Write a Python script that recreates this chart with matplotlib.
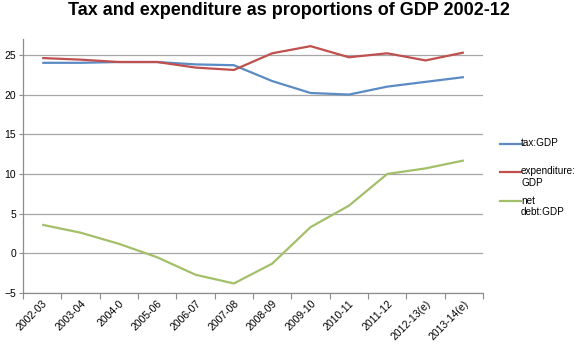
import matplotlib
matplotlib.use("Agg")
import matplotlib.pyplot as plt
from matplotlib.lines import Line2D
import numpy as np

years = ["2002-03", "2003-04", "2004-0", "2005-06", "2006-07", "2007-08",
         "2008-09", "2009-10", "2010-11", "2011-12", "2012-13(e)", "2013-14(e)"]
tax = [24.0, 24.0, 24.1, 24.1, 23.8, 23.7, 21.7, 20.2, 20.0, 21.0, 21.6, 22.2]
expenditure = [24.6, 24.4, 24.1, 24.1, 23.4, 23.1, 25.2, 26.1, 24.7, 25.2, 24.3, 25.3]
net_debt = [3.6, 2.6, 1.2, -0.5, -2.7, -3.8, -1.3, 3.3, 6.0, 10.0, 10.7, 11.7]

series = [
    ("tax:GDP", tax, "#5b8bc4"),
    ("expenditure:\nGDP", expenditure, "#c0504d"),
    ("net\ndebt:GDP", net_debt, "#a3bf6a"),
]

plt.rcParams["font.family"] = ["Liberation Sans", "DejaVu Sans"]

W, H = 578, 347
fig = plt.figure(figsize=(W / 100, H / 100), dpi=100)
ax = fig.add_axes([0.0398, 0.1556, 0.796, 0.732])

x = np.arange(len(years)) + 0.5
for label, vals, col in series:
    ax.plot(x, vals, color=col, lw=1.6, solid_capstyle="butt")

ax.set_xlim(0, len(years))
ax.set_ylim(-5, 27)
ax.set_yticks([-5, 0, 5, 10, 15, 20, 25])
ax.yaxis.grid(True, color="#a6a6a6", lw=0.9)
ax.set_axisbelow(True)

# category boundaries get the tick marks, labels sit at the centres
ax.set_xticks(np.arange(len(years) + 1))
ax.set_xticklabels([])
ax.set_xticks(x, minor=True)
ax.set_xticklabels(years, minor=True, rotation=45, ha="right",
                   rotation_mode="anchor", fontsize=7.5)
ax.tick_params(axis="x", which="minor", length=0, pad=4)
ax.tick_params(axis="x", which="major", length=4, color="#8c8c8c")
ax.tick_params(axis="y", length=3, color="#8c8c8c", labelsize=7.5, pad=2)

for s in ["top", "right"]:
    ax.spines[s].set_visible(False)
for s in ["left", "bottom"]:
    ax.spines[s].set_color("#8c8c8c")
    ax.spines[s].set_linewidth(0.9)

# legend: key line level with the first line of each label
legend_rows = [144, 172, 201]
for (label, vals, col), row in zip(series, legend_rows):
    yf = 1 - row / H
    fig.add_artist(Line2D([500 / W, 521 / W], [yf, yf], color=col, lw=1.6,
                          transform=fig.transFigure))
    fig.text(521 / W, 1 - (row - 5.5) / H, label, fontsize=7.2, va="top",
             ha="left", linespacing=1.15)

fig.suptitle("Tax and expenditure as proportions of GDP 2002-12",
             fontsize=13, fontweight="bold", x=0.5, y=0.995)

fig.savefig("out.png", dpi=100)
